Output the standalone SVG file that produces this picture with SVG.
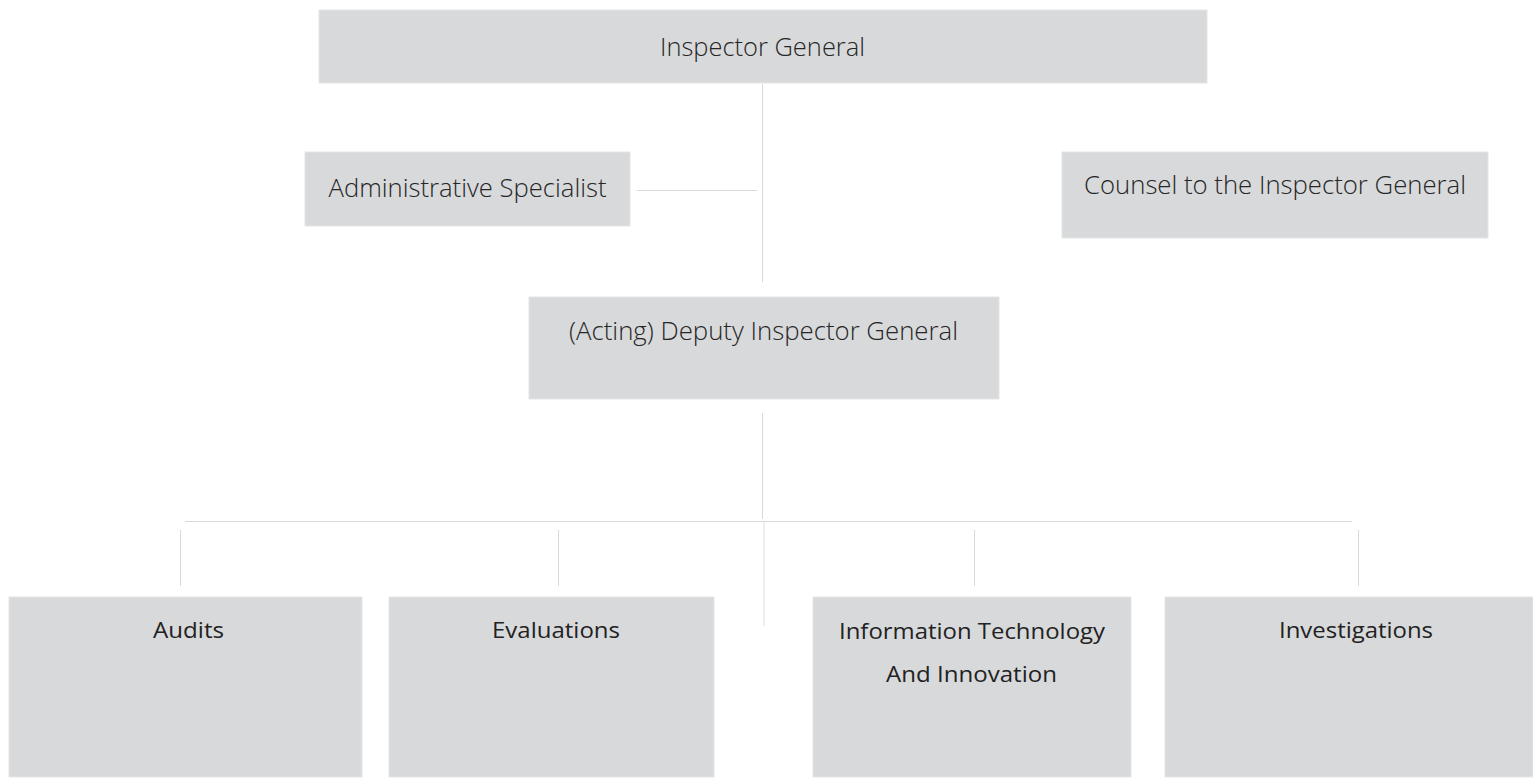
<svg xmlns="http://www.w3.org/2000/svg" width="1533" height="778" viewBox="0 0 1533 778">
<style>
.box{fill:#d8d9db;stroke:#e4e5e7;stroke-width:1}
.t1{font-family:"Open Sans","Noto Sans",sans-serif;font-weight:300;font-size:26px;fill:#262626;text-anchor:middle}
.t2{font-family:"Open Sans","Noto Sans",sans-serif;font-weight:400;font-size:22.5px;fill:#222222;text-anchor:middle}
.ln{stroke:#d9d9d9;stroke-width:1;fill:none}
.ln2{stroke:#efefef;stroke-width:2;fill:none}
</style>
<rect width="1533" height="778" fill="#ffffff"/>
<g id="connectors">
<line class="ln" x1="762.5" y1="84" x2="762.5" y2="282"/>
<line class="ln" x1="637" y1="190.5" x2="757" y2="190.5"/>
<line class="ln" x1="762.5" y1="413" x2="762.5" y2="519"/>
<line class="ln" x1="185" y1="521.5" x2="1352" y2="521.5"/>
<line class="ln2" x1="764" y1="522" x2="764" y2="626"/>
<line class="ln" x1="180.5" y1="530" x2="180.5" y2="586"/>
<line class="ln" x1="558.5" y1="530" x2="558.5" y2="586"/>
<line class="ln" x1="974.5" y1="530" x2="974.5" y2="586"/>
<line class="ln" x1="1358.5" y1="530" x2="1358.5" y2="586"/>
</g>
<g id="inspector-general">
<rect class="box" x="319" y="10" width="888" height="73"/>
<text class="t1" x="762.5" y="56" textLength="205" lengthAdjust="spacingAndGlyphs">Inspector General</text>
</g>
<g id="administrative-specialist">
<rect class="box" x="305" y="152" width="325" height="74"/>
<text class="t1" x="467.5" y="197" textLength="278" lengthAdjust="spacingAndGlyphs">Administrative Specialist</text>
</g>
<g id="counsel">
<rect class="box" x="1062" y="152" width="426" height="86"/>
<text class="t1" x="1275" y="194" textLength="382" lengthAdjust="spacingAndGlyphs">Counsel to the Inspector General</text>
</g>
<g id="deputy">
<rect class="box" x="529" y="297" width="470" height="102"/>
<text class="t1" x="763.5" y="340" textLength="389" lengthAdjust="spacingAndGlyphs">(Acting) Deputy Inspector General</text>
</g>
<g id="audits">
<rect class="box" x="9" y="597" width="353" height="180"/>
<text class="t2" x="188.5" y="638" textLength="71" lengthAdjust="spacingAndGlyphs">Audits</text>
</g>
<g id="evaluations">
<rect class="box" x="389" y="597" width="325" height="180"/>
<text class="t2" x="556" y="638" textLength="128" lengthAdjust="spacingAndGlyphs">Evaluations</text>
</g>
<g id="it-innovation">
<rect class="box" x="813" y="597" width="318" height="180"/>
<text class="t2" x="972" y="639" textLength="266" lengthAdjust="spacingAndGlyphs">Information Technology</text>
<text class="t2" x="971.5" y="682" textLength="171" lengthAdjust="spacingAndGlyphs">And Innovation</text>
</g>
<g id="investigations">
<rect class="box" x="1165" y="597" width="368" height="180"/>
<text class="t2" x="1356" y="638" textLength="154" lengthAdjust="spacingAndGlyphs">Investigations</text>
</g>
</svg>
